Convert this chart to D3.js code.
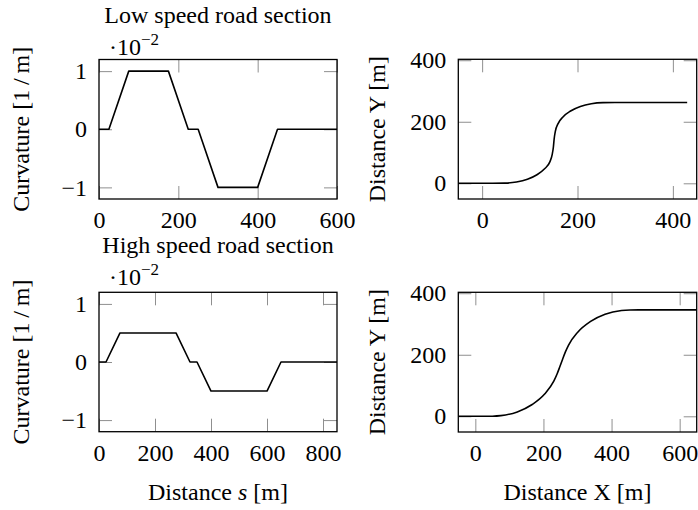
<!DOCTYPE html>
<html>
<head>
<meta charset="utf-8">
<script src="https://cdn.jsdelivr.net/npm/d3@7"></script>
<style>
  html, body { margin: 0; padding: 0; background: #fff; }
  svg { display: block; }
  text { font-family: "Liberation Serif", "Times New Roman", serif; fill: #000; }
</style>
</head>
<body>
<svg id="chart" width="698" height="510"></svg>
<script>
// ---- data ----
// Low speed: curvature profile (x 1e-2 1/m) vs distance s
const lowS = [0, 25, 75, 175, 225, 250, 300, 400, 450, 600];
const lowK = [0, 0, 1, 1, 0, 0, -1, -1, 0, 0];
// High speed: curvature profile
const highS = [0, 25, 75, 275, 325, 350, 400, 600, 650, 850];
const highK = [0, 0, 0.5, 0.5, 0, 0, -0.5, -0.5, 0, 0];
// Low speed: resulting path (X, Y in m)
const lowX = [-50, 0, 22, 47, 72, 95, 115, 131, 142, 147, 149.5, 151, 153.5, 159, 169.5, 185.5, 206, 229, 253.5, 278.5, 430];
const lowY = [0, 0, 0, 0.5, 4.2, 13.3, 27.9, 47.1, 69.6, 94, 118.9, 143.8, 168.8, 193.2, 215.7, 234.9, 249.5, 258.6, 262.3, 262.8, 262.8];
// High speed: resulting path
const highX = [-50, 0, 25, 50, 74.9, 123.2, 167, 203.5, 230.4, 240, 248.1, 256, 264.2, 273.8, 300.7, 337.2, 381, 429.3, 454.2, 479.2, 650];
const highY = [0, 0, 0, 0.26, 2.08, 14.4, 38.3, 72.3, 114.3, 137.4, 161, 184.7, 208.4, 231.5, 273.5, 307.5, 331.4, 343.7, 345.5, 345.8, 345.8];
// ticks
const curvYTicks = [-1, 0, 1];
const lowSTicks = [0, 200, 400, 600];
const highSTicks = [0, 200, 400, 600, 800];
const pathYTicks = [0, 200, 400];
const lowXTicks = [0, 200, 400];
const highXTicks = [0, 200, 400, 600];
const titles = ["Low speed road section", "High speed road section"];

const svg = d3.select("#chart");
const FS = 24;
const TICK = 13;

function panel(cfg) {
  const x = d3.scaleLinear().domain(cfg.xd).range([cfg.l, cfg.r]);
  const y = d3.scaleLinear().domain(cfg.yd).range([cfg.b, cfg.t]);
  const g = svg.append("g");

  const fmt = d3.format("d");
  const styleAxis = sel => {
    sel.select(".domain").remove();
    sel.selectAll(".tick line").attr("stroke", "#8f8f8f").attr("stroke-width", 1);
    sel.selectAll(".tick text").attr("font-size", FS).attr("font-family", '"Liberation Serif", serif').attr("fill", "#000");
  };
  g.append("g").attr("transform", `translate(0,${cfg.b})`)
    .call(d3.axisBottom(x).tickValues(cfg.xt).tickFormat(fmt).tickSizeInner(-TICK).tickSizeOuter(0).tickPadding(12))
    .call(styleAxis);
  g.append("g").attr("transform", `translate(0,${cfg.t})`)
    .call(d3.axisTop(x).tickValues(cfg.xt).tickFormat("").tickSizeInner(-TICK).tickSizeOuter(0))
    .call(styleAxis);
  g.append("g").attr("transform", `translate(${cfg.l},0)`)
    .call(d3.axisLeft(y).tickValues(cfg.yt).tickFormat(fmt).tickSizeInner(-TICK).tickSizeOuter(0).tickPadding(12))
    .call(styleAxis);
  g.append("g").attr("transform", `translate(${cfg.r},0)`)
    .call(d3.axisRight(y).tickValues(cfg.yt).tickFormat("").tickSizeInner(-TICK).tickSizeOuter(0))
    .call(styleAxis);

  const pts = cfg.xs.map((v, i) => [v, cfg.ys[i]]);
  g.append("path")
    .attr("d", d3.line().x(d => x(d[0])).y(d => y(d[1])).curve(cfg.curve)(pts))
    .attr("fill", "none").attr("stroke", "#000").attr("stroke-width", 1.6)
    .attr("stroke-linejoin", "round");

  g.append("rect").attr("x", cfg.l).attr("y", cfg.t)
    .attr("width", cfg.r - cfg.l).attr("height", cfg.b - cfg.t)
    .attr("fill", "none").attr("stroke", "#000").attr("stroke-width", 1.3);

  // y label
  g.append("text")
    .attr("transform", `translate(${cfg.ylx},${(cfg.t + cfg.b) / 2}) rotate(-90)`)
    .attr("text-anchor", "middle").attr("font-size", FS)
    .html(cfg.ylabel);

  if (cfg.title) {
    g.append("text").attr("x", (cfg.l + cfg.r) / 2).attr("y", cfg.titleY)
      .attr("text-anchor", "middle").attr("font-size", FS).text(cfg.title);
    const sc = g.append("text").attr("x", cfg.l + 10).attr("y", cfg.titleY + 32).attr("font-size", FS);
    sc.append("tspan").text("\u00B710");
    sc.append("tspan").attr("font-size", 17).attr("dy", -10).text("\u22122");
  }
  if (cfg.xlabel) {
    g.append("text").attr("x", (cfg.l + cfg.r) / 2).attr("y", 500)
      .attr("text-anchor", "middle").attr("font-size", FS).html(cfg.xlabel);
  }
}

const curvLabel = "Curvature [1\u2009/\u2009m]";
const distYLabel = "Distance Y [m]";

panel({ l: 99, r: 337, t: 59.5, b: 199, xd: [0, 600], yd: [-1.2, 1.2],
  xt: lowSTicks, yt: curvYTicks, xs: lowS, ys: lowK, curve: d3.curveLinear,
  ylx: 29, ylabel: curvLabel, title: titles[0], titleY: 23 });
panel({ l: 458.3, r: 696.7, t: 59.3, b: 199, xd: [-50, 450], yd: [-51, 403],
  xt: lowXTicks, yt: pathYTicks, xs: lowX, ys: lowY, curve: d3.curveMonotoneX,
  ylx: 385, ylabel: distYLabel });
panel({ l: 99, r: 337, t: 292.3, b: 431.7, xd: [0, 850], yd: [-1.2, 1.2],
  xt: highSTicks, yt: curvYTicks, xs: highS, ys: highK, curve: d3.curveLinear,
  ylx: 29, ylabel: curvLabel, title: titles[1], titleY: 253,
  xlabel: 'Distance <tspan font-style="italic">s</tspan> [m]' });
panel({ l: 458.3, r: 696.7, t: 292.3, b: 432, xd: [-50, 650], yd: [-51, 403],
  xt: highXTicks, yt: pathYTicks, xs: highX, ys: highY, curve: d3.curveMonotoneX,
  ylx: 385, ylabel: distYLabel, xlabel: "Distance X [m]" });
</script>
</body>
</html>
